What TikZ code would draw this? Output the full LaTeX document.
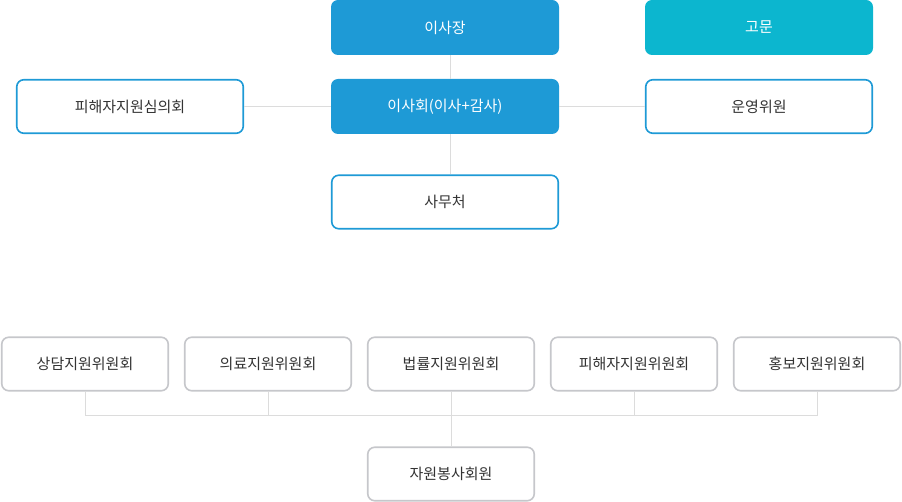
\documentclass[tikz,border=0pt]{standalone}
\usepackage{fontspec}
\setmainfont{Noto Sans CJK KR}
\usepackage{tikz}
\usetikzlibrary{positioning,calc}
\usepackage{xcolor}
\definecolor{board}{HTML}{1E9AD6}
\definecolor{advis}{HTML}{0CB6CF}
\definecolor{edge}{HTML}{C6C7CB}
\definecolor{wire}{HTML}{DCDCDC}
\definecolor{ink}{HTML}{333333}

\begin{document}
\begin{tikzpicture}[x=1pt,y=-1pt,
    box/.style={rounded corners=7pt, minimum height=53.5pt, inner sep=0pt, font=\fontsize{15}{17}\selectfont},
    filled/.style={box, fill=#1, text=white, minimum width=228pt, minimum height=55pt},
    topbox/.style={box, draw=board, line width=1.6pt, fill=white, text=ink, minimum width=226.5pt},
    subbox/.style={box, draw=edge, line width=1.6pt, fill=white, text=ink, minimum width=166.5pt},
    wireline/.style={draw=wire, line width=0.8pt}]
    \useasboundingbox (0,0) rectangle (902,502);

    \coordinate (bus) at (451,415);

    % Top part
    \node[filled=board] (chair) at (445,27.5) {이사장};
    \node[filled=advis] (advisor) at (759,27.5) {고문};
    \node[topbox] (review) at (130,106.5) {피해자지원심의회};
    \node[filled=board] (board) at (445,106.5) {이사회(이사+감사)};
    \node[topbox] (steer) at (759,106.5) {운영위원};
    \node[topbox] (office) at (445,202) {사무처};

    \draw[wireline] ([xshift=5pt]chair.south) -- ([xshift=5pt]board.north);
    \draw[wireline] ([xshift=5pt]board.south) -- ([xshift=5pt]office.north);
    \draw[wireline] (review.east) -- (board.west);
    \draw[wireline] (board.east) -- (steer.west);

    % Committees
    \foreach \n/\x/\t in {c1/85/상담지원위원회, c2/268/의료지원위원회, c3/451/법률지원위원회, c4/634/피해자지원위원회, c5/817/홍보지원위원회} {
        \node[subbox] (\n) at (\x,364) {\t};
        \draw[wireline] (\n.south) |- (bus);
    }

    % Volunteers
    \node[subbox] (volunteer) at (451,474) {자원봉사회원};
    \draw[wireline] (bus) -- (volunteer.north);
\end{tikzpicture}
\end{document}
